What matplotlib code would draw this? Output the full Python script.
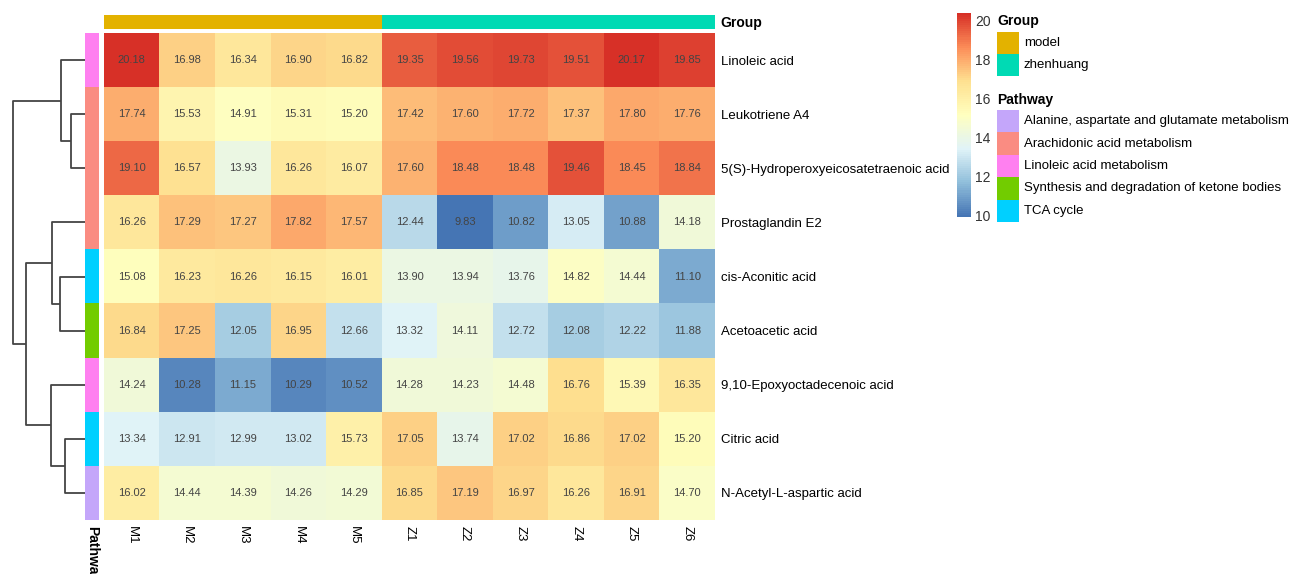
import numpy as np
import matplotlib
matplotlib.use("Agg")
import matplotlib.pyplot as plt
from matplotlib.colors import LinearSegmentedColormap, ListedColormap
from matplotlib.patches import Rectangle

plt.rcParams['font.family'] = ['Liberation Sans', 'DejaVu Sans']

# row / column labels
metabolites = ["Linoleic acid", "Leukotriene A4", "5(S)-Hydroperoxyeicosatetraenoic acid",
               "Prostaglandin E2", "cis-Aconitic acid", "Acetoacetic acid",
               "9,10-Epoxyoctadecenoic acid", "Citric acid", "N-Acetyl-L-aspartic acid"]
samples = ["M1", "M2", "M3", "M4", "M5", "Z1", "Z2", "Z3", "Z4", "Z5", "Z6"]

values = np.array([
    [20.18, 16.98, 16.34, 16.90, 16.82, 19.35, 19.56, 19.73, 19.51, 20.17, 19.85],
    [17.74, 15.53, 14.91, 15.31, 15.20, 17.42, 17.60, 17.72, 17.37, 17.80, 17.76],
    [19.10, 16.57, 13.93, 16.26, 16.07, 17.60, 18.48, 18.48, 19.46, 18.45, 18.84],
    [16.26, 17.29, 17.27, 17.82, 17.57, 12.44, 9.83, 10.82, 13.05, 10.88, 14.18],
    [15.08, 16.23, 16.26, 16.15, 16.01, 13.90, 13.94, 13.76, 14.82, 14.44, 11.10],
    [16.84, 17.25, 12.05, 16.95, 12.66, 13.32, 14.11, 12.72, 12.08, 12.22, 11.88],
    [14.24, 10.28, 11.15, 10.29, 10.52, 14.28, 14.23, 14.48, 16.76, 15.39, 16.35],
    [13.34, 12.91, 12.99, 13.02, 15.73, 17.05, 13.74, 17.02, 16.86, 17.02, 15.20],
    [16.02, 14.44, 14.39, 14.26, 14.29, 16.85, 17.19, 16.97, 16.26, 16.91, 14.70],
])

groups = ["model"] * 5 + ["zhenhuang"] * 6
group_names = ["model", "zhenhuang"]
group_colors = ["#E3B200", "#00DAB4"]

pathways = ["Linoleic acid metabolism", "Arachidonic acid metabolism", "Arachidonic acid metabolism",
            "Arachidonic acid metabolism", "TCA cycle", "Synthesis and degradation of ketone bodies",
            "Linoleic acid metabolism", "TCA cycle", "Alanine, aspartate and glutamate metabolism"]
pathway_names = ["Alanine, aspartate and glutamate metabolism", "Arachidonic acid metabolism",
                 "Linoleic acid metabolism", "Synthesis and degradation of ketone bodies", "TCA cycle"]
pathway_colors = ["#C4A6FA", "#FA8C82", "#FF80F0", "#72CC00", "#00D0FF"]

# row dendrogram: (left, right, height); leaves 0..8, new clusters numbered from 9
merges = [(1, 2, 14), (0, 9, 24), (4, 5, 25), (3, 11, 33),
          (7, 8, 20), (6, 13, 34), (12, 14, 59), (10, 15, 72)]

W, H = 1291, 574
fig = plt.figure(figsize=(W / 100, H / 100), dpi=100)


def px_axes(x0, y0, x1, y1):
    return fig.add_axes([x0 / W, 1 - y1 / H, (x1 - x0) / W, (y1 - y0) / H])


cmap = LinearSegmentedColormap.from_list(
    "rdylbu", ["#4575B4", "#91BFDB", "#E0F3F8", "#FFFFBF", "#FEE090", "#FC8D59", "#D73027"], N=100)
vmin, vmax = values.min(), values.max()

# main heatmap
ax = px_axes(104, 33, 715, 520)
ax.imshow(values, cmap=cmap, vmin=vmin, vmax=vmax, aspect="auto", interpolation="nearest")
for i in range(values.shape[0]):
    for j in range(values.shape[1]):
        ax.text(j, i, f"{values[i, j]:.2f}", ha="center", va="center", fontsize=8, color="#444444")
ax.set_xticks(range(len(samples)))
ax.set_xticklabels(samples, rotation=270, fontsize=9.5)
ax.xaxis.set_tick_params(length=0, pad=4)
ax.yaxis.tick_right()
ax.set_yticks(range(len(metabolites)))
ax.set_yticklabels(metabolites, fontsize=9.5)
ax.yaxis.set_tick_params(length=0, pad=4)
for s in ax.spines.values():
    s.set_visible(False)

# group annotation bar
ax_g = px_axes(104, 15, 715, 29)
g_idx = np.array([[group_names.index(g) for g in groups]])
ax_g.imshow(g_idx, cmap=ListedColormap(group_colors), vmin=0, vmax=1, aspect="auto")
ax_g.set_xticks([])
ax_g.set_yticks([0])
ax_g.set_yticklabels(["Group"], fontsize=10, fontweight="bold")
ax_g.yaxis.tick_right()
ax_g.yaxis.set_tick_params(length=0, pad=4)
for s in ax_g.spines.values():
    s.set_visible(False)

# pathway annotation bar
ax_p = px_axes(85, 33, 99, 520)
p_idx = np.array([[pathway_names.index(p)] for p in pathways])
ax_p.imshow(p_idx, cmap=ListedColormap(pathway_colors), vmin=0, vmax=4, aspect="auto")
ax_p.set_yticks([])
ax_p.set_xticks([0])
ax_p.set_xticklabels(["Pathway"], rotation=270, fontsize=10, fontweight="bold")
ax_p.xaxis.set_tick_params(length=0, pad=4)
for s in ax_p.spines.values():
    s.set_visible(False)

# dendrogram
ax_d = px_axes(10, 33, 85, 520)
pos = {i: (i, 0) for i in range(len(metabolites))}
for k, (a, b, h) in enumerate(merges):
    ya, ha = pos[a]
    yb, hb = pos[b]
    ax_d.plot([ha, h, h, hb], [ya, ya, yb, yb], color="#444444", lw=1.3, solid_capstyle="butt")
    pos[len(metabolites) + k] = ((ya + yb) / 2, h)
ax_d.set_xlim(75, 0)
ax_d.set_ylim(len(metabolites) - 0.5, -0.5)
ax_d.axis("off")

# colour bar
cax = px_axes(957, 13, 971, 217)
sm = plt.cm.ScalarMappable(cmap=cmap, norm=plt.Normalize(9.9, 20.36))
cb = fig.colorbar(sm, cax=cax, ticks=[10, 12, 14, 16, 18, 20])
cb.outline.set_visible(False)
cax.tick_params(length=0, labelsize=10, pad=3, labelcolor="#333333")

# legends, drawn in pixel coordinates
ov = fig.add_axes([0, 0, 1, 1])
ov.set_xlim(0, W)
ov.set_ylim(H, 0)
ov.axis("off")
ov.text(997, 21, "Group", fontsize=10, fontweight="bold", va="center")
for k, (name, col) in enumerate(zip(group_names, group_colors)):
    y0 = 32 + k * 22
    ov.add_patch(Rectangle((997, y0), 22, 22, facecolor=col, edgecolor="none"))
    ov.text(1024, y0 + 11, name, fontsize=9.5, va="center")
ov.text(997, 100, "Pathway", fontsize=10, fontweight="bold", va="center")
for k, (name, col) in enumerate(zip(pathway_names, pathway_colors)):
    y0 = 110 + k * 22.4
    ov.add_patch(Rectangle((997, y0), 22, 22.4, facecolor=col, edgecolor="none"))
    ov.text(1024, y0 + 11.2, name, fontsize=9.5, va="center")

fig.savefig("out.png", dpi=100)
